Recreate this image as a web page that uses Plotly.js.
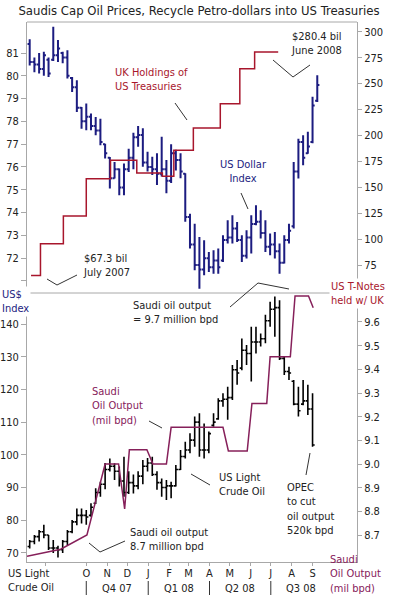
<!DOCTYPE html>
<html><head><meta charset="utf-8">
<script src="https://cdn.plot.ly/plotly-3.0.1.min.js"></script>
<style>html,body{margin:0;padding:0;background:#fff}#chart{width:398px;height:598px}</style>
</head><body><div id="chart"></div>
<script>
// ---------- DATA ----------
const weeks = ['2007-07-09','2007-07-16','2007-07-23','2007-07-30','2007-08-06','2007-08-13','2007-08-20','2007-08-27','2007-09-03','2007-09-10',
'2007-09-17','2007-09-24','2007-10-01','2007-10-08','2007-10-15','2007-10-22','2007-10-29','2007-11-05','2007-11-12','2007-11-19',
'2007-11-26','2007-12-03','2007-12-10','2007-12-17','2007-12-24','2007-12-31','2008-01-07','2008-01-14','2008-01-21','2008-01-28',
'2008-02-04','2008-02-11','2008-02-18','2008-02-25','2008-03-03','2008-03-10','2008-03-17','2008-03-24','2008-03-31','2008-04-07',
'2008-04-14','2008-04-21','2008-04-28','2008-05-05','2008-05-12','2008-05-19','2008-05-26','2008-06-02','2008-06-09','2008-06-16',
'2008-06-23','2008-06-30','2008-07-07','2008-07-14','2008-07-21','2008-07-28','2008-08-04','2008-08-11','2008-08-18','2008-08-25',
'2008-09-01','2008-09-08'];

// US Dollar Index weekly bars
const usdOpen = [81.4,80.6,80.5,80.3,80.7,80.7,80.9,81.0,80.8,79.9, 79.5,78.6,78.0,78.2,77.8,77.6,77.0,76.4,75.5,75.9,
75.1,75.9,76.4,77.3,77.4,76.2,76.0,75.9,75.7,75.9, 75.4,76.6,76.3,75.7,73.8,72.6,71.7,71.5,72.0,71.6,
71.9,71.9,72.8,72.9,73.3,72.8,72.1,72.9,73.5,73.6, 73.1,72.5,72.6,72.3,71.8,72.8,73.4,75.8,77.1,76.6, 77.1,78.9];
const usdHigh = [81.6,80.8,81.0,81.05,80.8,82.15,81.57,81.05,81.12,79.95, 79.8,78.63,78.78,78.34,78.19,78.12,77.02,76.44,76.22,75.93,
76.15,76.8,77.5,77.8,77.7,76.67,76.45,76.6,77.33,76.31, 77.0,76.75,76.6,75.72,73.95,73.51,72.93,72.78,72.27,72.35,
72.42,73.0,73.66,73.88,73.59,73.0,73.22,73.88,74.32,74.1, 73.66,73.08,73.15,72.64,73.0,73.51,76.22,77.24,77.39,77.54, 79.08,80.02];
const usdLow = [80.45,80.15,80.1,80.0,79.95,80.65,80.6,80.55,79.88,79.29, 78.41,77.68,77.61,77.61,77.39,76.95,76.37,75.05,75.49,74.76,
74.76,75.78,75.9,76.89,76.01,75.8,75.65,75.21,75.58,74.85, 75.3,75.85,75.5,73.6,72.42,71.47,70.66,71.25,71.39,71.32,
71.32,71.83,72.64,72.64,72.71,71.83,71.98,72.2,73.44,72.86, 72.27,72.13,71.98,71.32,71.76,72.64,73.3,75.49,76.07,76.58, 77.04,78.85];
const usdClose = [80.6,80.5,80.3,80.9,80.1,80.9,81.2,80.8,80.0,79.5, 78.6,78.0,78.2,77.8,77.6,77.1,76.6,75.5,75.9,75.1,
75.9,76.4,77.3,77.4,76.2,76.0,75.9,75.7,75.9,75.4, 76.6,76.3,75.8,73.8,72.6,71.7,71.5,72.0,71.6,71.9,
71.6,72.8,72.9,73.3,72.8,72.1,72.9,73.5,73.6,73.1, 72.5,72.6,72.3,71.8,72.8,73.2,75.8,77.1,76.4,76.9, 78.7,79.6];

// US Light Crude Oil weekly bars (US$)
const oilOpen = [72.0,73.5,75.0,76.5,75.5,71.5,71.5,71.0,73.5,76.5, 79.5,81.5,81.5,81.5,85.2,88.5,91.0,95.5,96.5,95.0,
92.0,88.5,91.5,90.5,93.5,96.5,97.5,94.0,91.5,90.0, 90.5,90.5,95.5,99.5,101.5,104.5,110.0,101.5,101.5,109.0,
111.0,116.5,117.0,117.5,126.0,126.5,132.0,131.0,134.5,134.5, 135.5,141.0,144.5,145.0,129.5,125.5,122.5,115.5,115.5,116.5, 114.0];
const oilHigh = [74.0,75.5,77.0,78.6,75.5,74.0,72.2,74.0,77.0,80.1, 83.6,83.6,83.1,85.2,89.8,91.8,97.5,98.9,97.4,96.4,
99.4,95.0,94.0,95.0,98.4,99.0,99.4,95.0,92.8,92.3, 91.8,96.9,101.5,104.0,106.6,111.7,112.7,109.6,107.1,112.7,
117.3,118.8,120.8,127.5,129.0,135.6,133.6,139.2,139.2,137.1, 142.8,146.8,148.4,147.3,130.0,126.9,122.9,120.8,122.9,121.4, 118.8];
const oilLow = [71.4,72.7,73.5,74.5,70.9,70.0,68.6,70.0,72.4,76.0, 78.5,79.0,78.6,81.1,85.0,87.2,89.5,94.9,92.3,90.3,
87.2,88.0,88.2,89.5,91.0,94.9,93.5,89.3,87.2,86.2, 86.7,90.3,95.4,98.9,100.5,102.5,99.4,98.9,100.5,108.6,
110.7,114.7,110.7,116.8,121.4,125.9,127.5,122.4,131.0,133.1, 134.1,139.2,136.1,129.0,124.4,122.9,115.2,111.7,115.2,112.2, 102.5];
const oilClose = [73.5,75.0,76.5,75.5,71.5,71.5,71.0,73.5,76.5,79.5, 81.5,81.5,81.0,84.0,88.5,91.0,95.5,96.5,95.0,92.0,
88.5,91.5,90.5,93.5,96.5,97.5,94.0,91.5,90.0,90.5, 90.5,95.5,99.5,101.5,104.5,110.0,101.5,101.5,106.5,110.0,
116.5,117.0,117.5,126.0,125.0,132.0,131.0,134.5,134.5,135.5, 141.0,144.5,145.0,129.5,125.5,125.0,115.5,113.5,116.5,114.0, 103.0];

// UK holdings of US Treasuries (US$ bil), step series
const ukDates  = ['2007-07-11','2007-07-25','2007-08-28','2007-10-01','2007-11-06','2007-12-09','2007-12-15','2008-01-14','2008-01-22','2008-02-08','2008-03-08','2008-04-17','2008-05-16','2008-06-07','2008-07-12'];
const ukValues = [65.0, 95.5, 122.3, 158.2, 176.0, 176.0, 163.7, 163.7, 160.5, 185.6, 207.1, 230.5, 264.3, 280.4, 280.4];

// Saudi oil output (mil bpd)
const saudiDates  = ['2007-07-05','2007-08-24','2007-10-02','2007-10-29','2007-11-18','2007-11-27','2007-12-04','2007-12-30','2008-01-08','2008-01-28','2008-02-04','2008-04-21','2008-04-29','2008-05-27','2008-06-03','2008-06-25','2008-06-30','2008-07-30','2008-08-06','2008-08-26','2008-09-02'];
const saudiValues = [8.61, 8.64, 8.70, 9.00, 9.00, 8.81, 9.06, 9.06, 9.00, 9.00, 9.155, 9.155, 9.055, 9.055, 9.256, 9.256, 9.453, 9.453, 9.71, 9.71, 9.66];

// axis labels
const monthTicks  = ['2007-08-01','2007-10-01','2007-11-01','2007-12-01','2008-01-01','2008-02-01','2008-03-01','2008-04-01','2008-05-01','2008-06-01','2008-07-01','2008-08-01','2008-09-01'];
const monthLabels = ['','O','N','D','J','F','M','A','M','J','J','A','S'];
const quarterBounds = ['2007-10-01','2008-01-01','2008-04-01','2008-07-01'];
const quarterMids   = ['2007-11-15','2008-02-15','2008-05-16','2008-08-15'];
const quarterLabels = ['Q4 07','Q1 08','Q2 08','Q3 08'];
const usdTicks   = [71,72,73,74,75,76,77,78,79,80,81];
const usdLabels  = ['','72','73','74','75','76','77','78','79','80','81'];
const ukTicks    = [75,100,125,150,175,200,225,250,275,300];
const oilTicks   = [70,80,90,100,110,120,130,140];
const saudiTicks = [8.7,8.8,8.9,9.0,9.1,9.2,9.3,9.4,9.5,9.6];
const saudiLabels= ['8.7','8.8','8.9','9.0','9.1','9.2','9.3','9.4','9.5','9.6'];

// ---------- STYLE ----------
const FONT = "'DejaVu Sans Condensed', 'DejaVu Sans', sans-serif";
const NAVY = '#1c1c80', UKRED = '#a8162c', SAUDI = '#86205a', GRAY = '#a8a8a8', INK = '#222222';
const L = 27, R = 357, T = 22, B = 562;
const px = x => (x - L) / (R - L);
const py = y => (B - y) / (B - T);
const split = py(293);

const traces = [
  {type:'ohlc', x:weeks, open:usdOpen, high:usdHigh, low:usdLow, close:usdClose, xaxis:'x', yaxis:'y',
   increasing:{line:{color:NAVY, width:2}}, decreasing:{line:{color:NAVY, width:2}}, tickwidth:0.45, hoverinfo:'skip'},
  {type:'scatter', mode:'lines', x:ukDates, y:ukValues, xaxis:'x', yaxis:'y2', line:{color:UKRED, width:1.5, shape:'hv'}, hoverinfo:'skip'},
  {type:'ohlc', x:weeks.slice(0, oilClose.length), open:oilOpen, high:oilHigh, low:oilLow, close:oilClose, xaxis:'x', yaxis:'y3',
   increasing:{line:{color:'#000', width:1.6}}, decreasing:{line:{color:'#000', width:1.6}}, tickwidth:0.45, hoverinfo:'skip'},
  {type:'scatter', mode:'lines', x:saudiDates, y:saudiValues, xaxis:'x', yaxis:'y4', line:{color:SAUDI, width:1.5}, hoverinfo:'skip'}
];

const yBase = {showgrid:false, zeroline:false, showline:true, linecolor:GRAY, linewidth:1, ticks:'outside', ticklen:5, tickcolor:GRAY,
  tickfont:{family:FONT, size:11, color:INK}, fixedrange:true, tickmode:'array'};

function txt(text, x, y, color, extra) {
  return Object.assign({text:text, xref:'paper', yref:'paper', x:px(x), y:py(y), xanchor:'left', yanchor:'top',
    showarrow:false, align:'left', font:{family:FONT, size:11, color:color}}, extra || {});
}
function seg(x0, y0, x1, y1, color) {
  return {type:'line', xref:'paper', yref:'paper', x0:px(x0), y0:py(y0), x1:px(x1), y1:py(y1), line:{color:color || '#333', width:1}};
}

const annotations = [
  txt('UK Holdings of<br>US Treasuries', 113, 64, UKRED),
  txt('$280.4 bil<br>June 2008', 289, 28, INK),
  txt('US Dollar<br>Index', 243, 156, NAVY, {xanchor:'center', align:'center'}),
  txt('$67.3 bil<br>July 2007', 81, 250, INK),
  txt('Saudi oil output<br>= 9.7 million bpd', 131, 297, INK),
  txt('Saudi<br>Oil Output<br>(mil bpd)', 90, 383, SAUDI),
  txt('Saudi oil output<br>8.7 million bpd', 128, 524, INK),
  txt('US Light<br>Crude Oil', 217, 469, INK),
  txt('OPEC<br>to cut<br>oil output<br>520k bpd', 285, 479, INK),
  txt('US$<br>Index', 0, 286, NAVY, {bgcolor:'#fff'}),
  txt('US T-Notes<br>held w/ UK', 329, 278, UKRED, {bgcolor:'#fff'}),
  txt('US Light<br>Crude Oil', 6, 565, INK),
  txt('Saudi<br>Oil Output<br>(mil bpd)', 328, 551, SAUDI)
];
quarterLabels.forEach((q, i) => annotations.push({text:q, xref:'x', x:quarterMids[i], yref:'paper', y:py(588),
  xanchor:'center', yanchor:'middle', showarrow:false, font:{family:FONT, size:11, color:INK}}));

const shapes = [
  seg(L, T, R, T, GRAY),
  seg(L, 293, R, 293, GRAY),
  seg(175, 103, 187, 120),
  seg(273, 60, 293, 77), seg(293, 77, 310, 65),
  seg(241, 193, 248, 209),
  seg(47, 279, 57, 285), seg(57, 285, 77, 275),
  seg(230, 307, 258, 283), seg(258, 283, 289, 289),
  seg(149, 421, 162, 428),
  seg(89, 543, 100, 552), seg(100, 552, 125, 541),
  seg(191, 474, 210, 485),
  seg(306, 475, 310, 453)
];
quarterBounds.forEach(d => shapes.push({type:'line', xref:'x', x0:d, x1:d, yref:'paper', y0:py(581), y1:py(595), line:{color:'#333', width:1}}));

const layout = {
  width:398, height:598,
  margin:{l:L, r:398-R, t:T, b:598-B, pad:0},
  paper_bgcolor:'#fff', plot_bgcolor:'#fff', showlegend:false,
  font:{family:FONT, size:11, color:INK},
  title:{text:'Saudis Cap Oil Prices, Recycle Petro-dollars into US Treasuries', font:{family:FONT, size:13, color:INK},
    xref:'container', x:0.5, xanchor:'center', yref:'container', y:1 - 10/598, yanchor:'middle'},
  xaxis:{type:'date', range:['2007-07-05','2008-11-06'], anchor:'y3', tickmode:'array', tickvals:monthTicks, ticktext:monthLabels,
    ticks:'outside', ticklen:3, tickcolor:GRAY, showline:true, linecolor:GRAY, showgrid:false, zeroline:false, ticklabelstandoff:-2,
    tickfont:{family:FONT, size:11, color:INK}, rangeslider:{visible:false}, fixedrange:true},
  yaxis: Object.assign({}, yBase, {domain:[split, 1], range:[70.47, 82.36], tickvals:usdTicks, ticktext:usdLabels, anchor:'x', side:'left'}),
  yaxis2:Object.assign({}, yBase, {overlaying:'y', side:'right', anchor:'x', range:[48.0, 309.4], tickvals:ukTicks, ticklen:4}),
  yaxis3:Object.assign({}, yBase, {domain:[0, split], range:[67.24, 149.48], tickvals:oilTicks, anchor:'x', side:'left'}),
  yaxis4:Object.assign({}, yBase, {overlaying:'y3', side:'right', anchor:'x', range:[8.586, 9.7225], tickvals:saudiTicks, ticktext:saudiLabels, ticklen:4}),
  annotations:annotations, shapes:shapes
};

Plotly.newPlot('chart', traces, layout, {staticPlot:true, displayModeBar:false});
</script></body></html>
